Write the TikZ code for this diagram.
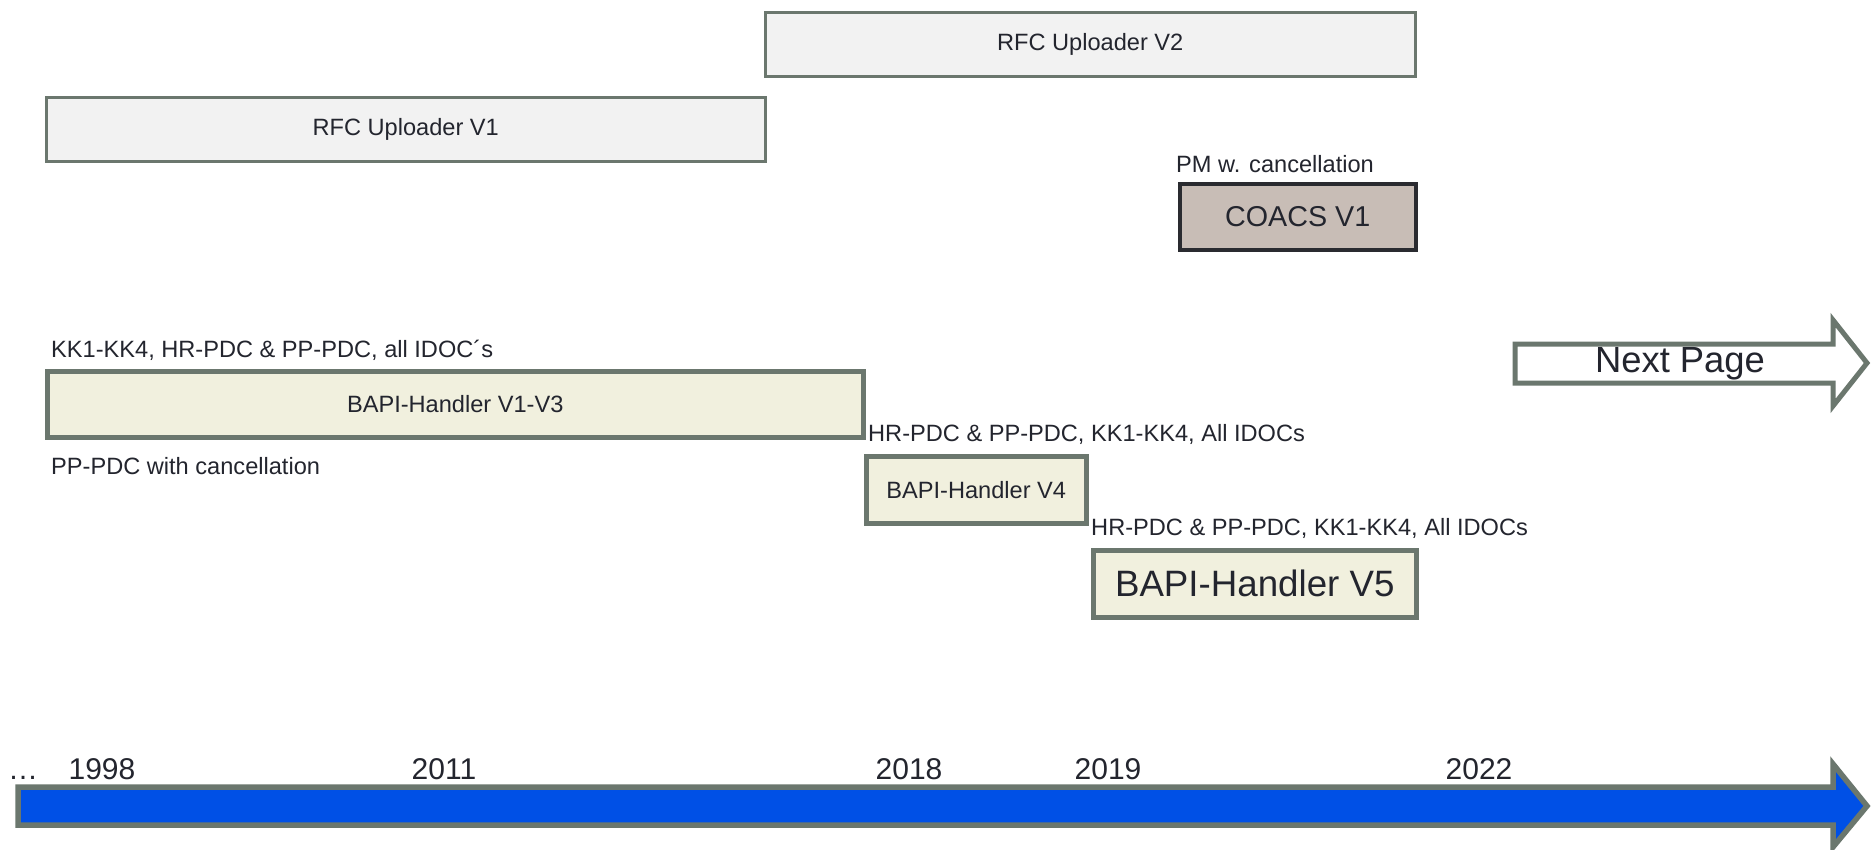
\documentclass[tikz,border=0pt]{standalone}
\usepackage{fontspec}
\setmainfont{Liberation Sans}
\definecolor{ink}{HTML}{23252E}
\definecolor{frame}{HTML}{6B776E}
\definecolor{rfcfill}{HTML}{F2F2F2}
\definecolor{bapifill}{HTML}{F1F0DE}
\definecolor{coacsfill}{HTML}{C8BDB6}
\definecolor{coacsframe}{HTML}{2A2B30}
\definecolor{lineblue}{HTML}{0050E6}
\tikzset{
  base/.style={text=ink, inner sep=0pt},
  rfcbox/.style={base, draw=frame, line width=2.5pt, fill=rfcfill, anchor=north west,
    font=\fontsize{23.6}{28}\selectfont},
  bapibox/.style={base, draw=frame, line width=4.5pt, fill=bapifill, anchor=north west,
    font=\fontsize{23.6}{28}\selectfont},
  note/.style={base, anchor=west, font=\fontsize{23.6}{28}\selectfont},
  year/.style={base, anchor=base, font=\fontsize{30}{34}\selectfont},
}
\begin{document}
\begin{tikzpicture}[x=1pt,y=-1pt]
\useasboundingbox (0,0) rectangle (1872,849);
\fill[white] (0,0) rectangle (1872,849);

% RFC uploaders
\node[rfcbox, minimum width=650, minimum height=64] (rfc2) at (764,11) {RFC Uploader V2};
\node[rfcbox, minimum width=719, minimum height=64] (rfc1) at (45,96) {RFC Uploader V1};

% COACS
\node[note] (pmnote) at (1176,164) {PM w. cancellation};
\node[base, draw=coacsframe, line width=3.5pt, fill=coacsfill, anchor=north west,
      minimum width=236, minimum height=66, font=\fontsize{28.7}{32}\selectfont]
      (coacs) at (1178,182) {COACS V1};

% BAPI handlers
\node[note] (kknote) at (51,350) {KK1-KK4, HR-PDC \& PP-PDC, all IDOC´s};
\node[bapibox, minimum width=816, minimum height=66] (bapi13) at (45,369) {BAPI-Handler V1-V3};
\node[note] (ppnote) at (51,466) {PP-PDC with cancellation};

\node[note] (hrnote4) at (868,434) {HR-PDC \& PP-PDC, KK1-KK4, All IDOCs};
\node[bapibox, minimum width=220, minimum height=67] (bapi4) at (864,454) {BAPI-Handler V4};

\node[note] (hrnote5) at (1091,528) {HR-PDC \& PP-PDC, KK1-KK4, All IDOCs};
\node[bapibox, minimum width=323, minimum height=67, font=\fontsize{36.7}{40}\selectfont]
      (bapi5) at (1091,548) {BAPI-Handler V5};

% Next page arrow
\draw[frame, line width=5pt, fill=white, line join=miter]
  (1515,344) -- (1833,344) -- (1833,320) -- (1867,363) -- (1833,406) -- (1833,383) -- (1515,383) -- cycle;
\node[base, font=\fontsize{36.4}{40}\selectfont] (next) at (1680,364) {Next Page};

% Timeline
\draw[frame, line width=5.5pt, fill=lineblue, line join=miter]
  (18,787) -- (1833,787) -- (1833,764) -- (1867,806) -- (1833,847) -- (1833,825) -- (18,825) -- cycle;
\node[base, anchor=base west, font=\fontsize{30}{34}\selectfont] (dots) at (8,779) {…};
\node[year] (y1998) at (102,779) {1998};
\node[year] (y2011) at (444,779) {2011};
\node[year] (y2018) at (909,779) {2018};
\node[year] (y2019) at (1108,779) {2019};
\node[year] (y2022) at (1479,779) {2022};
\end{tikzpicture}
\end{document}
